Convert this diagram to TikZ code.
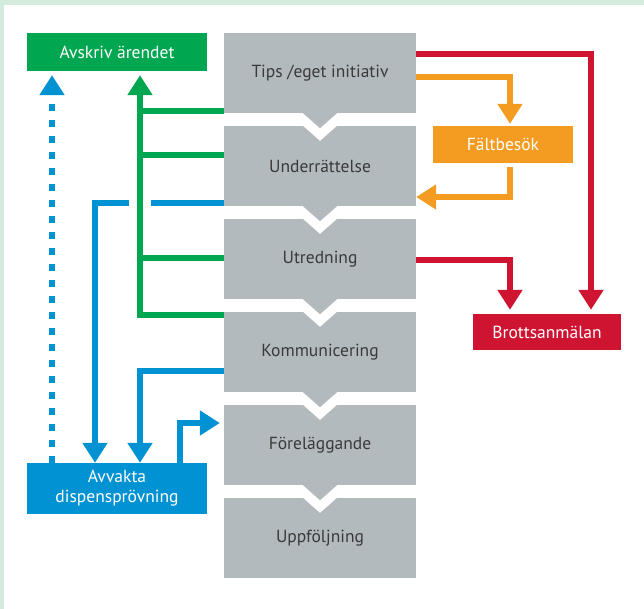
\documentclass[tikz,border=0pt]{standalone}
\usepackage{fontspec}
\setmainfont{PT Sans}
\usetikzlibrary{arrows.meta,calc}
\definecolor{cgreen}{HTML}{00A650}
\definecolor{cred}{HTML}{CF1431}
\definecolor{corange}{HTML}{F39C21}
\definecolor{cblue}{HTML}{0092D2}
\definecolor{cgray}{HTML}{B3BABE}
\definecolor{ctext}{HTML}{3A3A3A}
\definecolor{cbg}{HTML}{D3ECDD}
\tikzset{
  gbox/.style={minimum width=192pt, minimum height=80pt, inner sep=0pt, fill=cgray, text=ctext, font=\fontsize{17.5}{21}\selectfont},
  cbox/.style={inner sep=0pt, text=white, font=\fontsize{17.5}{20}\selectfont, align=center},
  conn/.style={line width=6pt, -{Triangle[width=24pt,length=20pt]}},
  plain/.style={line width=6pt},
}
\begin{document}
\begin{tikzpicture}[x=1pt,y=-1pt]
\useasboundingbox (0,0) rectangle (644,609);
\fill[cbg] (0,0) rectangle (644,609);
\fill[white] (4,5) rectangle (644,609);

% process column
\node[gbox] (tips)  at (320,73)  {Tips /eget initiativ};
\node[gbox] (under) at (320,166) {Underrättelse};
\node[gbox] (utred) at (320,259) {Utredning};
\node[gbox] (komm)  at (320,352) {Kommunicering};
\node[gbox] (forel) at (320,445) {Föreläggande};
\node[gbox] (uppf)  at (320,538) {Uppföljning};
\foreach \a/\b in {tips/under, under/utred, utred/komm, komm/forel, forel/uppf}{
  \fill[white] ($(\b.north)+(-17,0)$) -- ($(\b.north)+(0,15)$) -- ($(\b.north)+(17,0)$) -- cycle;
  \fill[cgray] ($(\a.south)+(-17,0)$) -- ($(\a.south)+(0,15)$) -- ($(\a.south)+(17,0)$) -- cycle;
}

% side boxes
\node[cbox, fill=cgreen, minimum width=180pt, minimum height=38pt] (avsk) at (117,52) {Avskriv ärendet};
\node[cbox, fill=corange, minimum width=140pt, minimum height=37pt] (falt) at (503,144.5) {Fältbesök};
\node[cbox, fill=cred, minimum width=148pt, minimum height=36pt] (brott) at (547,332) {Brottsanmälan};
\node[cbox, fill=cblue, minimum width=180pt, minimum height=51pt] (avv) at (117,488.5) {Avvakta\\dispensprövning};

% red
\draw[conn, cred, shorten >=4pt] ([yshift=19pt]tips.east) -| ([xshift=44pt]brott.north);
\draw[conn, cred, shorten >=4pt] ([yshift=-1pt]utred.east) -| ([xshift=-37pt]brott.north);

% orange
\draw[conn, corange, shorten >=2pt] ([yshift=-4pt]tips.east) -| ([xshift=7pt]falt.north);
\draw[conn, corange, shorten <=4pt] ([xshift=7pt]falt.south) |- ([yshift=-31pt]under.east);

% blue
\draw[conn, cblue, dash pattern=on 7pt off 9pt, shorten >=4pt] ([xshift=-65pt]avv.north) -- ([xshift=-65pt]avsk.south);
\draw[conn, cblue] ([yshift=-37pt]under.west) -| ([xshift=-22pt]avv.north);
\draw[conn, cblue] ([yshift=-19pt]komm.west) -| ([xshift=23pt]avv.north);
\draw[conn, cblue, shorten >=4pt] ([xshift=63pt]avv.north) |- ([yshift=22pt]forel.west);
\fill[white] (129,199) rectangle (151,207);

% green
\draw[plain, cgreen] ([yshift=-38pt]tips.west) -- ++(-87,0);
\draw[plain, cgreen] ([yshift=11pt]under.west) -- ++(-87,0);
\draw[plain, cgreen] ([yshift=1pt]utred.west) -- ++(-87,0);
\draw[conn, cgreen, shorten >=4pt] ([yshift=37pt]komm.west) -| ([xshift=23pt]avsk.south);
\end{tikzpicture}
\end{document}
